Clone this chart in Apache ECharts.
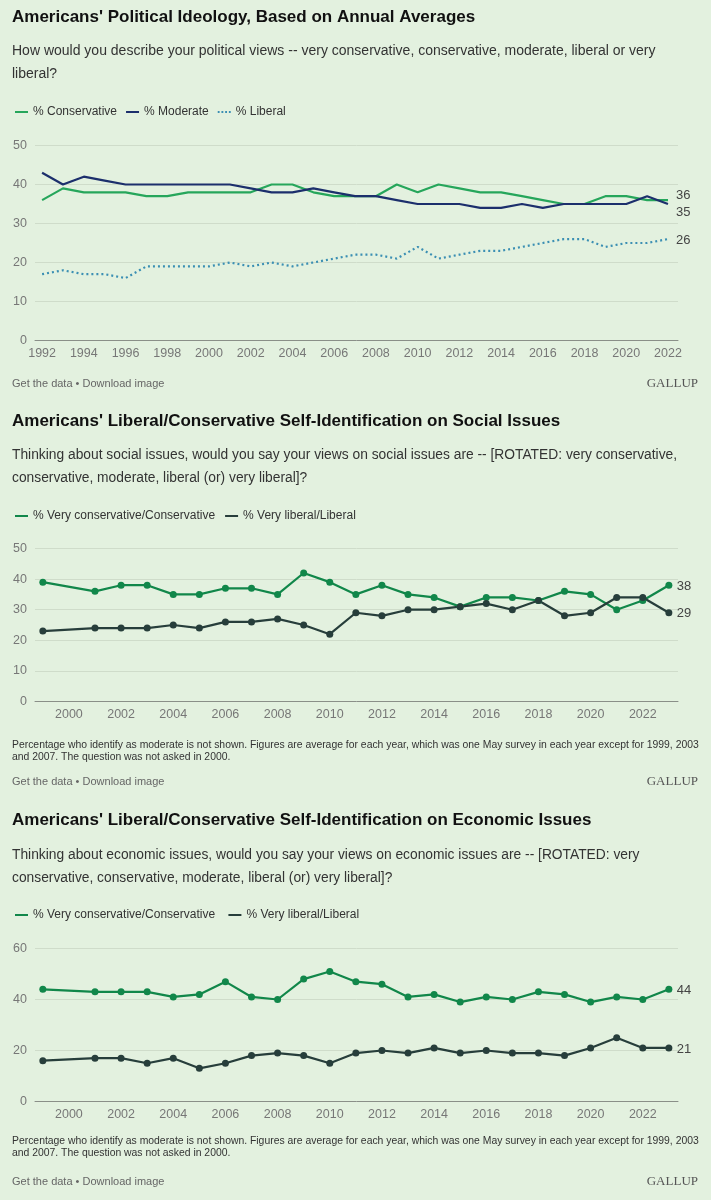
<!DOCTYPE html>
<html><head><meta charset="utf-8">
<script src="https://cdn.jsdelivr.net/npm/echarts@6/dist/echarts.min.js"></script>
<style>html,body{margin:0;padding:0;background:#e3f1df;}#c{width:711px;height:1200px;}</style>
</head><body><div id="c"></div>
<script>
// ---- Chart 1: Political ideology (annual averages)
const years1 = [1992,1993,1994,1995,1996,1997,1998,1999,2000,2001,2002,2003,2004,2005,2006,2007,2008,2009,2010,2011,2012,2013,2014,2015,2016,2017,2018,2019,2020,2021,2022];
const conservative1 = [36,39,38,38,38,37,37,38,38,38,38,40,40,38,37,37,37,40,38,40,39,38,38,37,36,35,35,37,37,36,36];
const moderate1 = [43,40,42,41,40,40,40,40,40,40,39,38,38,39,38,37,37,36,35,35,35,34,34,35,34,35,35,35,35,37,35];
const liberal1 = [17,18,17,17,16,19,19,19,19,20,19,20,19,20,21,22,22,21,24,21,22,23,23,24,25,26,26,24,25,25,26];
const xTicks1 = [1992,1994,1996,1998,2000,2002,2004,2006,2008,2010,2012,2014,2016,2018,2020,2022];

// ---- Charts 2 & 3 (no survey in 2000)
const years23 = [1999,2001,2002,2003,2004,2005,2006,2007,2008,2009,2010,2011,2012,2013,2014,2015,2016,2017,2018,2019,2020,2021,2022,2023];
const socialConservative = [39,36,38,38,35,35,37,37,35,42,39,35,38,35,34,31,34,34,33,36,35,30,33,38];
const socialLiberal = [23,24,24,24,25,24,26,26,27,25,22,29,28,30,30,31,32,30,33,28,29,34,34,29];
const economicConservative = [44,43,43,43,41,42,47,41,40,48,51,47,46,41,42,39,41,40,43,42,39,41,40,44];
const economicLiberal = [16,17,17,15,17,13,15,18,19,18,15,19,20,19,21,19,20,19,19,18,21,25,21,21];
const xTicks23 = [2000,2002,2004,2006,2008,2010,2012,2014,2016,2018,2020,2022];

const pairs = (xs, ys) => xs.map((x, i) => [x, ys[i]]);

const FONT = '"Liberation Sans", Arial, sans-serif';
const axisLabelColor = '#777';
const splitColor = '#cfdcca';

function txt(x, y, text, size, opts) {
  opts = opts || {};
  return {
    type: 'text', x: x, y: y, silent: true,
    scaleX: opts.scaleX || 1,
    style: {
      text: text, fill: opts.color || '#333',
      font: (opts.weight || 'normal') + ' ' + size + 'px ' + (opts.family || FONT),
      align: opts.align || 'left', verticalAlign: 'middle'
    }
  };
}

const chart = echarts.init(document.getElementById('c'), null, {renderer: 'canvas'});

const grids = [
  {left: 35, right: 33, top: 145.5, height: 195},
  {left: 35, right: 33, top: 548.5, height: 153},
  {left: 35, right: 33, top: 948.5, height: 153}
];

function xAxis(idx, min, max, ticks) {
  return {
    type: 'value', gridIndex: idx, min: min, max: max,
    axisLine: {show: true, onZero: false, lineStyle: {color: '#8a8f88', width: 1}},
    axisTick: {show: false},
    splitLine: {show: false},
    axisLabel: {customValues: ticks, color: axisLabelColor, fontSize: 12.5, fontFamily: FONT, margin: 7, formatter: v => String(v)}
  };
}
function yAxis(idx, max, interval) {
  return {
    type: 'value', gridIndex: idx, min: 0, max: max, interval: interval,
    axisLine: {show: false}, axisTick: {show: false},
    splitLine: {lineStyle: {color: splitColor, width: 1}},
    axisLabel: {color: axisLabelColor, fontSize: 12.5, fontFamily: FONT, margin: 8}
  };
}

function lineSeries(name, idx, data, color, extra) {
  extra = extra || {};
  return {
    name: name, type: 'line', xAxisIndex: idx, yAxisIndex: idx,
    data: data, color: color,
    lineStyle: {color: color, width: 2.2, type: extra.dash || 'solid'},
    symbol: extra.symbol || 'none', symbolSize: 7,
    itemStyle: {color: color},
    animation: false,
    endLabel: {show: true, formatter: p => String(p.value[1]), color: '#444', fontSize: 13, fontFamily: FONT,
      distance: 8, offset: extra.labelOffset || [0, 0]}
  };
}

const green1 = '#26a65b', navy1 = '#1c2f6c', blue1 = '#3b8fb3';
const green2 = '#11874a', dark2 = '#273e3b';

const legendText = {color: '#333', fontSize: 12, fontFamily: FONT};
const dotIcon = 'path://M0 0h2v2H0z M4 0h2v2H4z M8 0h2v2H8z M12 0h2v2H12z';

const option = {
  backgroundColor: '#e3f1df',
  animation: false,
  grid: grids,
  xAxis: [xAxis(0, 1991.66, 2022.48, xTicks1), xAxis(1, 1998.7, 2023.35, xTicks23), xAxis(2, 1998.7, 2023.35, xTicks23)],
  yAxis: [yAxis(0, 50, 10), yAxis(1, 50, 10), yAxis(2, 60, 20)],
  legend: [
    {left: 10, top: 101, icon: 'rect', itemWidth: 13, itemHeight: 2, itemGap: 9, textStyle: legendText, selectedMode: false,
      data: [{name: '% Conservative'}, {name: '% Moderate'}, {name: '% Liberal', icon: dotIcon}]},
    {left: 10, top: 505, icon: 'rect', itemWidth: 13, itemHeight: 2, itemGap: 10, textStyle: legendText, selectedMode: false,
      data: ['% Very conservative/Conservative', '% Very liberal/Liberal']},
    {left: 10, top: 904, icon: 'rect', itemWidth: 13, itemHeight: 2, itemGap: 10, textStyle: legendText, selectedMode: false,
      data: ['% Very conservative/Conservative ', '% Very liberal/Liberal ']}
  ],
  series: [
    lineSeries('% Conservative', 0, pairs(years1, conservative1), green1, {labelOffset: [0, -5]}),
    lineSeries('% Moderate', 0, pairs(years1, moderate1), navy1, {labelOffset: [0, 8]}),
    lineSeries('% Liberal', 0, pairs(years1, liberal1), blue1, {dash: [2, 3], labelOffset: [0, 1]}),
    lineSeries('% Very conservative/Conservative', 1, pairs(years23, socialConservative), green2, {symbol: 'circle', labelOffset: [0, 1]}),
    lineSeries('% Very liberal/Liberal', 1, pairs(years23, socialLiberal), dark2, {symbol: 'circle', labelOffset: [0, 1]}),
    lineSeries('% Very conservative/Conservative ', 2, pairs(years23, economicConservative), green2, {symbol: 'circle', labelOffset: [0, 1]}),
    lineSeries('% Very liberal/Liberal ', 2, pairs(years23, economicLiberal), dark2, {symbol: 'circle', labelOffset: [0, 1]})
  ],
  graphic: [
    txt(12, 17, "Americans' Political Ideology, Based on Annual Averages", 17, {weight: 'bold', color: '#111'}),
    txt(12, 51, 'How would you describe your political views -- very conservative, conservative, moderate, liberal or very', 14),
    txt(12, 74, 'liberal?', 14),
    txt(12, 384, 'Get the data \u2022 Download image', 11, {color: '#666'}),
    txt(698, 384, 'GALLUP', 13, {color: '#555', family: '"Liberation Serif", serif', align: 'right'}),

    txt(12, 421, "Americans' Liberal/Conservative Self-Identification on Social Issues", 17, {weight: 'bold', color: '#111'}),
    txt(12, 455, 'Thinking about social issues, would you say your views on social issues are -- [ROTATED: very conservative,', 13.8),
    txt(12, 478, 'conservative, moderate, liberal (or) very liberal]?', 13.8),
    txt(12, 745, 'Percentage who identify as moderate is not shown. Figures are average for each year, which was one May survey in each year except for 1999, 2003', 10.4),
    txt(12, 757, 'and 2007. The question was not asked in 2000.', 10.4),
    txt(12, 782, 'Get the data \u2022 Download image', 11, {color: '#666'}),
    txt(698, 782, 'GALLUP', 13, {color: '#555', family: '"Liberation Serif", serif', align: 'right'}),

    txt(12, 820, "Americans' Liberal/Conservative Self-Identification on Economic Issues", 17, {weight: 'bold', color: '#111'}),
    txt(12, 855, 'Thinking about economic issues, would you say your views on economic issues are -- [ROTATED: very', 13.8),
    txt(12, 878, 'conservative, conservative, moderate, liberal (or) very liberal]?', 13.8),
    txt(12, 1141, 'Percentage who identify as moderate is not shown. Figures are average for each year, which was one May survey in each year except for 1999, 2003', 10.4),
    txt(12, 1153, 'and 2007. The question was not asked in 2000.', 10.4),
    txt(12, 1182, 'Get the data \u2022 Download image', 11, {color: '#666'}),
    txt(698, 1182, 'GALLUP', 13, {color: '#555', family: '"Liberation Serif", serif', align: 'right'})
  ]
};
chart.setOption(option);
</script></body></html>
